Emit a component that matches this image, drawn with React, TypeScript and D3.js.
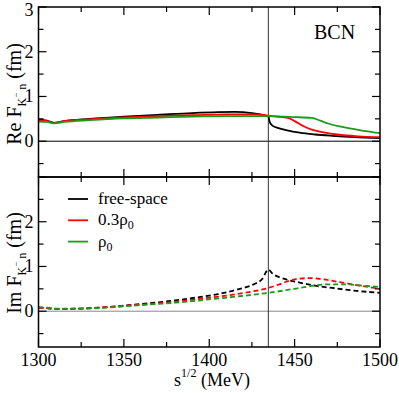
import React from 'react';
import * as d3 from 'd3';

// sqrt(s) grid for each curve (MeV) and the values (fm)
const reFreeS = [1300, 1305, 1309, 1315, 1330, 1350, 1370, 1390, 1405, 1415, 1425, 1430, 1433, 1434.6, 1435.5, 1437, 1440, 1445, 1453, 1462, 1472, 1485, 1500];
const reFree = [0.49, 0.46, 0.41, 0.45, 0.5, 0.55, 0.59, 0.63, 0.65, 0.655, 0.63, 0.6, 0.57, 0.55, 0.42, 0.35, 0.3, 0.25, 0.19, 0.15, 0.12, 0.09, 0.07];
const reLowS = [1300, 1305, 1309, 1315, 1330, 1350, 1370, 1390, 1410, 1425, 1434.6, 1440, 1446, 1450, 1455, 1460, 1467, 1475, 1487, 1500];
const reLow = [0.47, 0.45, 0.41, 0.45, 0.49, 0.53, 0.56, 0.58, 0.6, 0.6, 0.57, 0.55, 0.52, 0.45, 0.34, 0.26, 0.2, 0.15, 0.11, 0.09];
const reNucS = [1300, 1305, 1309, 1315, 1330, 1350, 1370, 1390, 1410, 1434.6, 1450, 1460, 1465, 1470, 1478, 1488, 1500];
const reNuc = [0.44, 0.43, 0.4, 0.43, 0.47, 0.51, 0.53, 0.55, 0.56, 0.56, 0.54, 0.52, 0.46, 0.39, 0.32, 0.25, 0.18];

const imFreeS = [1300, 1305, 1310, 1325, 1340, 1350, 1365, 1380, 1395, 1405, 1414, 1420, 1426, 1431, 1434.6, 1437, 1441, 1447, 1453, 1462, 1472, 1485, 1500];
const imFree = [0.08, 0.07, 0.05, 0.06, 0.09, 0.125, 0.18, 0.24, 0.32, 0.38, 0.46, 0.52, 0.6, 0.72, 0.93, 0.84, 0.76, 0.69, 0.64, 0.57, 0.52, 0.46, 0.41];
const imLowS = [1300, 1305, 1310, 1325, 1340, 1350, 1365, 1380, 1395, 1414, 1425, 1434.6, 1441, 1446, 1453, 1460, 1467, 1475, 1487, 1500];
const imLow = [0.08, 0.07, 0.05, 0.06, 0.09, 0.12, 0.16, 0.21, 0.28, 0.37, 0.44, 0.52, 0.6, 0.67, 0.73, 0.74, 0.71, 0.66, 0.58, 0.5];
const imNucS = [1300, 1305, 1310, 1325, 1340, 1350, 1365, 1380, 1395, 1414, 1434.6, 1445, 1453, 1461, 1470, 1480, 1490, 1500];
const imNuc = [0.09, 0.08, 0.06, 0.06, 0.08, 0.11, 0.15, 0.19, 0.245, 0.32, 0.41, 0.47, 0.52, 0.57, 0.6, 0.6, 0.57, 0.54];

const seriesNames = ['free-space', '0.3ρ0', 'ρ0'];
const seriesColors = ['#000000', '#ff0000', '#1a9c1a'];
const threshold = 1434.6;

const xMajor = [1300, 1350, 1400, 1450, 1500];
const xMinor = [1325, 1375, 1425, 1475];
const yMajor = [0, 1, 2, 3];
const yMinor = [-0.5, 0.5, 1.5, 2.5];

const W = 399, H = 393;
const left = 38.5, right = 380;
const topPanel = { top: 7, bottom: 177 };
const botPanel = { top: 177, bottom: 347 };
const serif = { fontFamily: "'Liberation Serif', 'DejaVu Serif', serif" };

const x = d3.scaleLinear().domain([1300, 1500]).range([left, right]);
const yTop = d3.scaleLinear().domain([-0.8, 3]).range([topPanel.bottom, topPanel.top]);
const yBot = d3.scaleLinear().domain([-0.8, 3]).range([botPanel.bottom, botPanel.top]);

function zip(s: number[], v: number[]) {
  return s.map((d, i) => [d, v[i]] as [number, number]);
}

function Frame({ y, panelTop, panelBottom, labels }: any) {
  const ticks: JSX.Element[] = [];
  const major = 8, minor = 5;
  xMajor.forEach(v => {
    ticks.push(<line key={'xb' + v} x1={x(v)} x2={x(v)} y1={panelBottom} y2={panelBottom - major} />);
    ticks.push(<line key={'xt' + v} x1={x(v)} x2={x(v)} y1={panelTop} y2={panelTop + major} />);
  });
  xMinor.forEach(v => {
    ticks.push(<line key={'xbm' + v} x1={x(v)} x2={x(v)} y1={panelBottom} y2={panelBottom - minor} />);
    ticks.push(<line key={'xtm' + v} x1={x(v)} x2={x(v)} y1={panelTop} y2={panelTop + minor} />);
  });
  yMajor.forEach(v => {
    ticks.push(<line key={'yl' + v} x1={left} x2={left + major} y1={y(v)} y2={y(v)} />);
    ticks.push(<line key={'yr' + v} x1={right} x2={right - major} y1={y(v)} y2={y(v)} />);
  });
  yMinor.forEach(v => {
    ticks.push(<line key={'ylm' + v} x1={left} x2={left + minor} y1={y(v)} y2={y(v)} />);
    ticks.push(<line key={'yrm' + v} x1={right} x2={right - minor} y1={y(v)} y2={y(v)} />);
  });
  return (
    <g>
      <g stroke="#000" strokeWidth={1.2}>{ticks}</g>
      <rect x={left} y={panelTop} width={right - left} height={panelBottom - panelTop} fill="none" stroke="#000" strokeWidth={1.5} />
      <g style={serif} fontSize={18} textAnchor="end">
        {labels.map((v: number) => (
          <text key={v} x={left - 5} y={Math.max(y(v) + 6, 16)}>{v}</text>
        ))}
      </g>
    </g>
  );
}

export default function App() {
  const line = (y: d3.ScaleLinear<number, number>) =>
    d3.line<[number, number]>().x(d => x(d[0])).y(d => y(d[1])).curve(d3.curveMonotoneX);
  const reData = [zip(reFreeS, reFree), zip(reLowS, reLow), zip(reNucS, reNuc)];
  const imData = [zip(imFreeS, imFree), zip(imLowS, imLow), zip(imNucS, imNuc)];

  return (
    <div style={{ position: 'absolute', left: 0, top: 0 }}>
      <svg width={W} height={H} style={{ display: 'block', background: '#fff' }}>
        {/* zero lines */}
        <line x1={left} x2={right} y1={yTop(0)} y2={yTop(0)} stroke="#000" strokeWidth={1} />
        <line x1={left} x2={right} y1={yBot(0)} y2={yBot(0)} stroke="#888" strokeWidth={1} />
        {/* threshold */}
        <line x1={x(threshold)} x2={x(threshold)} y1={topPanel.top} y2={botPanel.bottom} stroke="#333" strokeWidth={1} />

        {reData.map((d, i) => (
          <path key={'re' + i} d={line(yTop)(d) || ''} fill="none" stroke={seriesColors[i]} strokeWidth={1.8} />
        ))}
        {imData.map((d, i) => (
          <path key={'im' + i} d={line(yBot)(d) || ''} fill="none" stroke={seriesColors[i]} strokeWidth={1.8} strokeDasharray="5,3" />
        ))}

        <Frame y={yTop} panelTop={topPanel.top} panelBottom={topPanel.bottom} labels={[0, 1, 2, 3]} />
        <Frame y={yBot} panelTop={botPanel.top} panelBottom={botPanel.bottom} labels={[0, 1, 2]} />

        {/* x tick labels */}
        <g style={serif} fontSize={18} textAnchor="middle">
          {xMajor.map(v => (
            <text key={v} x={x(v)} y={366}>{v}</text>
          ))}
        </g>

        <text x={314} y={39} style={serif} fontSize={20}>BCN</text>

        {/* legend */}
        <g style={serif} fontSize={17}>
          {seriesNames.map((n, i) => (
            <g key={n} transform={`translate(0,${199 + i * 21.3})`}>
              <line x1={68} x2={88} y1={0} y2={0} stroke={seriesColors[i]} strokeWidth={1.8} />
              <text x={98} y={5}>
                {n.endsWith('0') ? (
                  <>
                    {n.slice(0, -1)}
                    <tspan fontSize={12} dy={4}>0</tspan>
                  </>
                ) : n}
              </text>
            </g>
          ))}
        </g>

        {/* axis titles */}
        <text transform="translate(21,94) rotate(-90)" style={serif} fontSize={20} textAnchor="middle">
          Re F<tspan fontSize={12} dy={5}>K</tspan><tspan fontSize={9} dy={-7}>−</tspan><tspan fontSize={12} dy={7}> n</tspan><tspan dy={-5}> (fm)</tspan>
        </text>
        <text transform="translate(21,263) rotate(-90)" style={serif} fontSize={20} textAnchor="middle">
          Im F<tspan fontSize={12} dy={5}>K</tspan><tspan fontSize={9} dy={-7}>−</tspan><tspan fontSize={12} dy={7}> n</tspan><tspan dy={-5}> (fm)</tspan>
        </text>
        <text x={212} y={386} style={serif} fontSize={18} textAnchor="middle">
          s<tspan fontSize={12} dy={-9}>1/2</tspan><tspan dy={9}> (MeV)</tspan>
        </text>
      </svg>
    </div>
  );
}
